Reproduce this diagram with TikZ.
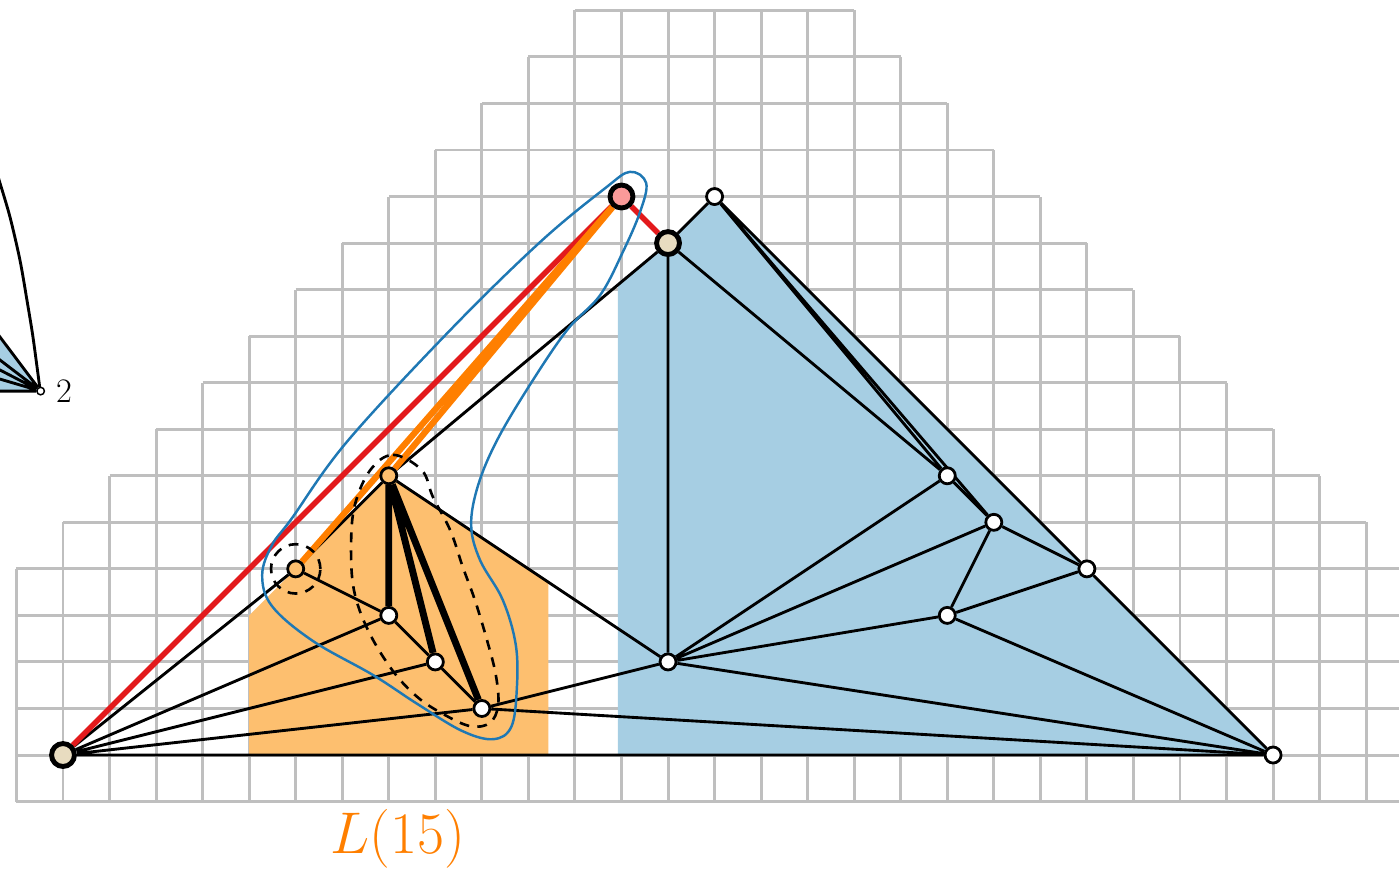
\RequirePackage{fix-cm}
\documentclass[tikz,border=0pt]{standalone}
\usepackage{amsmath,amssymb}
\usepackage{tikz}
\usepackage{xcolor}
\usetikzlibrary{calc, arrows.meta, positioning}

\definecolor{gridgray}{HTML}{BFBFBF}
\definecolor{lightblue}{HTML}{A6CEE3}
\definecolor{lightorange}{HTML}{FDBF6F}
\definecolor{darkorange}{HTML}{FF7F00}
\definecolor{redline}{HTML}{E31A1C}
\definecolor{hullblue}{HTML}{1F78B4}
\definecolor{beige}{HTML}{E8DCC0}
\definecolor{pinkfill}{HTML}{FB9A99}

\pgfdeclarelayer{background}
\pgfdeclarelayer{foreground}
\pgfsetlayers{background,main,foreground}

\begin{document}
\begin{tikzpicture}[
  gridline/.style={draw=gridgray, line width=1.8pt},
  edge/.style={line width=1.75pt},
  heavyedge/.style={line width=4.2pt},
  rededge/.style={draw=redline, line width=3.4pt},
  orangeedge/.style={draw=darkorange, line width=3.8pt},
  hull/.style={draw=hullblue, line width=1.5pt},
  dashcurve/.style={line width=1.6pt, dash pattern=on 6pt off 5pt},
  vtx/.style={circle, draw=black, fill=white, line width=1.7pt, minimum size=9.8pt, inner sep=0pt},
  ovtx/.style={vtx, fill=lightorange},
  bigvtx/.style={circle, draw=black, fill=beige, line width=3pt, minimum size=14pt, inner sep=0pt},
  tinyvtx/.style={circle, draw=black, fill=white, line width=0.9pt, minimum size=4.6pt, inner sep=0pt}
]
  \useasboundingbox (-1.3537,-2.5355) rectangle (28.706,16.223);
  \clip (-1.3537,-2.5355) rectangle (28.706,16.223);

  % ---- vertices (drawn on top) ----
  \begin{pgfonlayer}{foreground}
    \node[bigvtx] (A) at (0,0) {};
    \node[vtx] (B) at (26,0) {};
    \node[bigvtx] (C) at (13,11) {};
    \node[bigvtx, fill=pinkfill] (D) at (12,12) {};
    \node[vtx] (E) at (14,12) {};
    \node[vtx] (F) at (19,6) {};
    \node[vtx] (G) at (20,5) {};
    \node[vtx] (H) at (22,4) {};
    \node[vtx] (I) at (19,3) {};
    \node[vtx] (J) at (13,2) {};
    \node[ovtx] (K) at (7,6) {};
    \node[ovtx] (M) at (5,4) {};
    \node[vtx] (N) at (7,3) {};
    \node[vtx] (O) at (8,2) {};
    \node[vtx] (P) at (9,1) {};
    \node[tinyvtx] (two) at (-0.48,7.82) {};
    \node[font=\fontsize{21}{24}\selectfont] (twolbl) at (0.02,7.82) {2};
    \node[text=darkorange, font=\fontsize{36}{42}\selectfont] (lname) at (7.19,-1.8) {$L(15)$};
  \end{pgfonlayer}

  % ---- grid and shaded strips ----
  \begin{pgfonlayer}{background}
    \clip (-1.3537,-2.5355) rectangle (28.706,16.223);
    \foreach \k in {-1,...,15}{
      \pgfmathtruncatemacro{\xl}{max(\k-4,-1)}
      \pgfmathtruncatemacro{\xr}{min(32-\k,29)}
      \draw[gridline] (\xl,\k) grid (\xr,\k+1);
    }
    \fill[lightblue] (11.92,0) -- (11.92,10.086) -- (13,11) -- (14,12) -- (26,0) -- cycle;
    \fill[lightorange] (4,0) -- (4,3) -- (7,6) -- (10.43,3.713) -- (10.43,0) -- cycle;
  \end{pgfonlayer}

  % ---- left neighbour (cut off) ----
  \coordinate (l1) at (-1.6,9.31);
  \coordinate (l2) at (-1.6,8.675);
  \coordinate (l3) at (-1.6,8.40);
  \coordinate (l4) at (-1.6,8.15);
  \coordinate (l5) at (-1.6,7.82);
  \fill[lightblue] (two.center) -- (l1) -- (l5) -- cycle;
  \draw[edge] (two) -- (l1) (two) -- (l2) (two) -- (l3) (two) -- (l4) (two) -- (l5);
  \draw[edge] plot[smooth] coordinates {(-1.42,12.5) (-1.354,12.29) (-1.139,11.56) (-0.924,10.63) (-0.774,9.77) (-0.645,8.98) (-0.5,7.9)};

  % ---- thin edges ----
  \draw[edge] (A) -- (M) (A) -- (N) (A) -- (O) (A) -- (P) (A) -- (B);
  \draw[edge] (M) -- (N) -- (O) -- (P) (M) -- (K) -- (C) (K) -- (J) -- (P) -- (B);
  \draw[edge] (J) -- (C) -- (E) -- (H) -- (B) (C) -- (F) (E) -- (F) (E) -- (G);
  \draw[edge] (F) -- (J) (F) -- (G) -- (J) (G) -- (I) (G) -- (H) -- (I) -- (J) (I) -- (B) (J) -- (B);

  % ---- heavy edges ----
  \draw[heavyedge] (K) -- (N) (K) -- (O) (K) -- (P);

  % ---- red and orange paths ----
  \draw[rededge] (A) -- (D) -- (C);
  \draw[orangeedge] (M) -- (D) (K) -- (D);

  % ---- enclosing curves ----
  \draw[hull] plot[smooth cycle, tension=0.6] coordinates {
    (12.18,12.53) (12.53,12.29) (12.40,11.67) (12.03,10.81) (11.54,9.88)
    (10.83,9.13) (10.03,7.95) (9.33,6.77) (8.92,5.80) (8.77,4.94)
    (8.96,4.19) (9.45,3.33) (9.73,2.36) (9.75,1.40) (9.63,0.60)
    (9.24,0.34) (8.57,0.52) (7.61,1.10) (6.66,1.72) (5.37,2.45)
    (4.49,3.20) (4.28,3.87) (4.49,4.51) (4.92,5.09) (6.10,6.73)
    (8.32,9.13) (10.25,11.02) (11.65,12.18)};
  \draw[dashcurve] (M) circle (0.53);
  \draw[dashcurve] plot[smooth cycle, tension=0.6] coordinates {
    (6.60,6.12) (7.09,6.45) (7.71,6.12) (7.95,5.54) (8.32,4.83)
    (8.59,4.04) (8.85,3.33) (9.11,2.47) (9.30,1.72) (9.35,1.07)
    (9.17,0.69) (8.75,0.62) (8.17,0.88) (7.61,1.25) (7.07,1.83)
    (6.55,2.69) (6.25,3.55) (6.19,4.51) (6.27,5.37)};
\end{tikzpicture}
\end{document}
